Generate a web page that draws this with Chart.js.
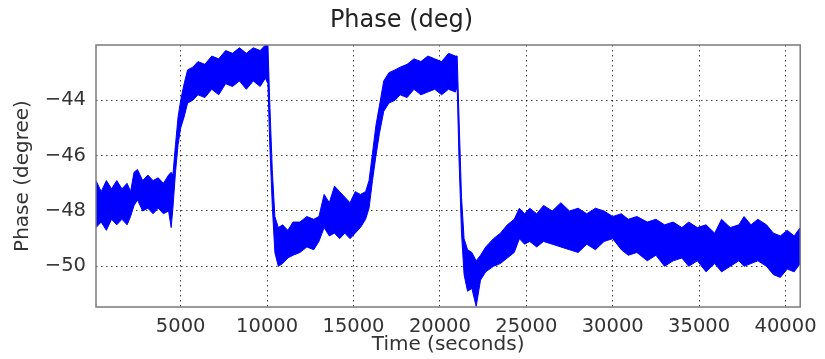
<!DOCTYPE html>
<html>
<head>
<meta charset="utf-8">
<script src="https://cdn.jsdelivr.net/npm/chart.js@4/dist/chart.umd.min.js"></script>
<style>
  html, body { margin: 0; padding: 0; background: #fff; }
  #wrap { width: 825px; height: 359px; }
</style>
</head>
<body>
<div id="wrap"><canvas id="phaseChart" width="825" height="359"></canvas></div>
<script>
// time (s) and the upper / lower edge of the noisy phase trace (deg)
const times = [100, 400, 700, 1000, 1300, 1600, 1900, 2100, 2300, 2500, 2800, 3100, 3400, 3700, 4000, 4300, 4450, 4550, 4700, 4850,
  5000, 5200, 5400, 5700, 6000, 6400, 6800, 7200, 7600, 8000, 8400, 8800, 9200, 9600, 9900, 10050, 10150, 10300, 10450, 10650,
  10900, 11200, 11500, 11900, 12300, 12700, 13000, 13300, 13600, 13900, 14200, 14500, 14800, 15100, 15400, 15700, 15900, 16100, 16300, 16500,
  16750, 17050, 17400, 17700, 18100, 18500, 18900, 19300, 19700, 20100, 20500, 20900, 21000, 21100, 21250, 21400, 21600, 21850, 22100, 22350,
  22650, 23100, 23500, 23900, 24300, 24600, 24900, 25200, 25600, 26000, 26500, 27000, 27500, 28000, 28500, 29000, 29500, 30000, 30500, 30900,
  31400, 32000, 32500, 33000, 33500, 34000, 34400, 34900, 35400, 35900, 36300, 36800, 37300, 37600, 38000, 38400, 38900, 39300, 39700, 40100,
  40500, 40850];
const phaseUpper = [-46.9, -47.3, -46.9, -47.2, -46.9, -47.2, -47.0, -47.3, -46.6, -46.5, -46.9, -46.7, -46.9, -46.8, -47.0, -46.7, -46.6, -46.7, -45.6, -44.6,
  -44.0, -43.4, -42.9, -42.8, -42.6, -42.7, -42.4, -42.5, -42.2, -42.3, -42.1, -42.3, -42.1, -42.2, -42.0, -42.0, -44.0, -46.5, -48.2, -48.6,
  -48.5, -48.7, -48.4, -48.4, -48.2, -48.3, -48.2, -47.4, -47.7, -47.1, -47.3, -47.5, -47.7, -47.3, -47.4, -47.3, -46.9, -45.9, -44.9, -44.2,
  -43.3, -43.0, -42.9, -42.8, -42.7, -42.5, -42.6, -42.4, -42.5, -42.6, -42.3, -42.4, -42.4, -44.5, -47.5, -49.0, -49.4, -49.5, -49.8, -49.6,
  -49.3, -49.0, -48.8, -48.5, -48.3, -47.9, -48.1, -47.9, -48.1, -47.8, -48.0, -47.7, -48.0, -47.9, -48.1, -47.9, -48.0, -48.2, -48.1, -48.3,
  -48.2, -48.4, -48.3, -48.5, -48.4, -48.6, -48.4, -48.6, -48.5, -48.8, -48.3, -48.6, -48.5, -48.2, -48.5, -48.3, -48.5, -48.8, -48.9, -48.7,
  -48.9, -48.6];
const phaseLower = [-48.6, -48.4, -48.7, -48.3, -48.5, -48.3, -48.5, -48.2, -47.8, -47.6, -48.0, -47.9, -48.1, -47.9, -48.1, -48.0, -48.6, -47.9, -46.6, -45.6,
  -45.0, -44.6, -44.1, -44.0, -43.8, -43.9, -43.6, -43.8, -43.4, -43.5, -43.3, -43.6, -43.3, -43.5, -43.2, -43.4, -45.5, -47.8, -49.5, -50.0,
  -49.9, -49.7, -49.6, -49.5, -49.3, -49.4, -49.1, -48.6, -48.9, -48.8, -49.0, -48.8, -49.0, -48.8, -48.6, -48.3, -47.9, -46.9, -46.0, -45.2,
  -44.4, -44.1, -44.0, -43.8, -43.9, -43.6, -43.8, -43.7, -43.6, -43.8, -43.6, -43.7, -43.5, -46.0, -48.8, -50.3, -50.9, -50.8, -51.45, -50.5,
  -50.2, -50.0, -49.9, -49.7, -49.5, -49.0, -49.2, -49.1, -49.3, -49.1, -49.2, -49.3, -49.4, -49.5, -49.2, -49.4, -49.1, -49.0, -49.4, -49.6,
  -49.5, -49.8, -49.6, -50.0, -49.8, -49.7, -50.0, -49.8, -50.2, -49.9, -50.2, -50.0, -49.8, -50.0, -49.9, -49.8, -50.0, -50.3, -50.4, -50.1,
  -50.2, -49.9];

const xTicks = [5000, 10000, 15000, 20000, 25000, 30000, 35000, 40000];
const yTicks = [-50, -48, -46, -44];

const toPoints = (arr) => times.map((t, i) => ({ x: t, y: arr[i] }));
const fontFamily = "'DejaVu Sans', sans-serif";

const frame = {
  id: "frame",
  afterDraw(chart) {
    const { ctx, chartArea: a } = chart;
    ctx.save();
    ctx.strokeStyle = "#7a7a7a";
    ctx.lineWidth = 1.5;
    ctx.strokeRect(a.left, a.top, a.right - a.left, a.bottom - a.top);
    ctx.restore();
  }
};

new Chart(document.getElementById("phaseChart").getContext("2d"), {
  type: "line",
  data: {
    datasets: [
      {
        label: "upper",
        data: toPoints(phaseUpper),
        borderColor: "#0000ff",
        backgroundColor: "#0000ff",
        borderWidth: 1,
        pointRadius: 0,
        tension: 0,
        fill: "+1"
      },
      {
        label: "lower",
        data: toPoints(phaseLower),
        borderColor: "#0000ff",
        backgroundColor: "#0000ff",
        borderWidth: 1,
        pointRadius: 0,
        tension: 0,
        fill: false
      }
    ]
  },
  options: {
    responsive: false,
    animation: false,
    layout: { padding: { left: 0, right: 22, top: 0, bottom: 0 } },
    plugins: {
      legend: { display: false },
      tooltip: { enabled: false },
      title: {
        display: true,
        text: "Phase (deg)",
        color: "#222",
        font: { family: fontFamily, size: 24, weight: "normal", lineHeight: 1.2 },
        padding: { top: 6, bottom: 10.2 }
      }
    },
    scales: {
      x: {
        type: "linear",
        min: 100,
        max: 40850,
        z: 1,
        afterFit(scale) { scale.height = 52; },
        afterBuildTicks(scale) { scale.ticks = xTicks.map(v => ({ value: v })); },
        ticks: {
          color: "#333",
          padding: 8,
          maxRotation: 0,
          font: { family: fontFamily, size: 19.5 },
          callback: (v) => String(v)
        },
        grid: { color: "rgba(0,0,0,0.75)", lineWidth: 1, drawTicks: false },
        border: { display: false, dash: [1.5, 3.5] },
        title: {
          display: true,
          text: "Time (seconds)",
          color: "#333",
          font: { family: fontFamily, size: 20, lineHeight: 1.2 },
          padding: { top: 0, bottom: 2 }
        }
      },
      y: {
        type: "linear",
        min: -51.47,
        max: -42.0,
        z: 1,
        afterFit(scale) { scale.width = 96; },
        afterBuildTicks(scale) { scale.ticks = yTicks.map(v => ({ value: v })); },
        ticks: {
          color: "#333",
          padding: 10,
          font: { family: fontFamily, size: 19.5 },
          callback: (v) => String(v).replace("-", "\u2212")
        },
        grid: { color: "rgba(0,0,0,0.75)", lineWidth: 1, drawTicks: false },
        border: { display: false, dash: [1.5, 3.5] },
        title: {
          display: true,
          text: "Phase (degree)",
          color: "#333",
          font: { family: fontFamily, size: 20, lineHeight: 1.2 },
          padding: { top: 11, bottom: 0 }
        }
      }
    }
  },
  plugins: [frame]
});
</script>
</body>
</html>
